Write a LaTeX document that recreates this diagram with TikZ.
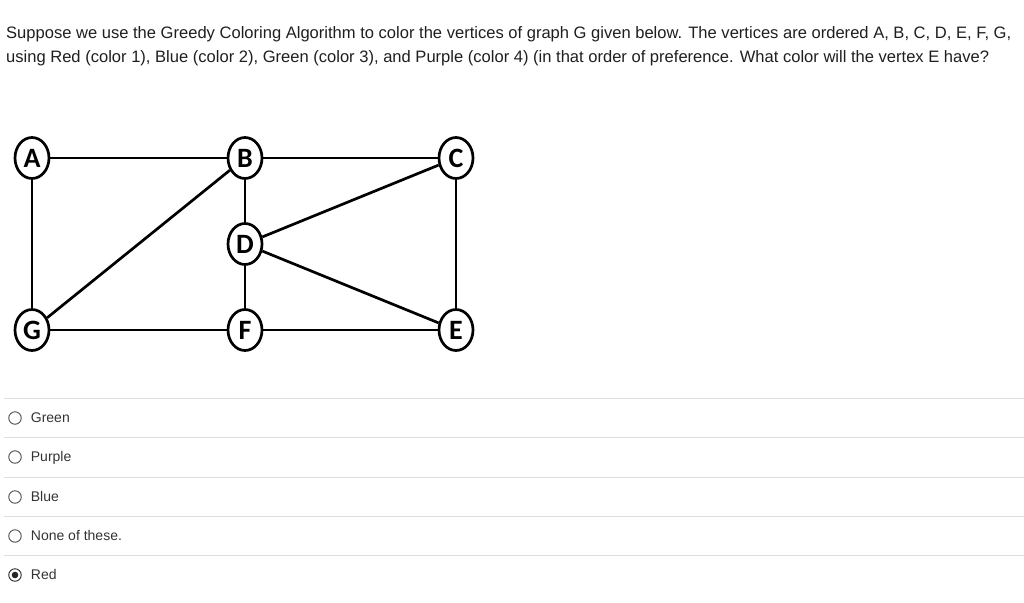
\documentclass[tikz,border=0pt]{standalone}
\usepackage{fontspec}
\setmainfont{Liberation Sans}
\newfontfamily\vertexfont{Carlito}
\usetikzlibrary{positioning}
\usetikzlibrary{shapes.geometric}

\tikzset{
	vertex/.style={draw, ellipse, line width=2.7pt, minimum width=34pt, minimum height=41pt, inner sep=0pt, font=\vertexfont\bfseries\fontsize{28}{28}\selectfont},
	edge/.style={line width=2.7pt},
	radio/.style={circle, draw=black!70, line width=0.9pt, minimum size=12.5pt, inner sep=0pt},
	answer/.style={inner sep=0pt, text height=10pt, text depth=2pt, font=\fontsize{14}{16}\selectfont, text=black!80},
	question/.style={anchor=base west, inner sep=0pt, font=\fontsize{16.55}{18}\selectfont, text=black!88},
	rule/.style={draw=black!13, line width=1pt}
}

\begin{document}
\begin{tikzpicture}[x=1pt, y=-1pt]
			\useasboundingbox (0, 0) rectangle (1024, 602);
			\node[question] (line1) at (6, 38) {Suppose we use the Greedy Coloring Algorithm to color the vertices of graph G given below. The vertices are ordered A, B, C, D, E, F, G,};
			\node[question] (line2) at (6, 63) {using Red (color 1), Blue (color 2), Green (color 3), and Purple (color 4) (in that order of preference. What color will the vertex E have?};
			% graph
			\node[vertex] (A) at (32, 158) {A};
			\node[vertex] (B) at (245, 158) {B};
			\node[vertex] (C) at (456, 158) {C};
			\node[vertex] (D) at (245, 244) {D};
			\node[vertex] (G) at (32, 330) {G};
			\node[vertex] (F) at (245, 330) {F};
			\node[vertex] (E) at (456, 330) {E};
			\draw[edge] (A)--(B);
			\draw[edge] (B)--(C);
			\draw[edge] (A)--(G);
			\draw[edge] (G)--(B);
			\draw[edge] (B)--(D);
			\draw[edge] (D)--(C);
			\draw[edge] (D)--(E);
			\draw[edge] (D)--(F);
			\draw[edge] (C)--(E);
			\draw[edge] (G)--(F);
			\draw[edge] (F)--(E);
			% answers
			\draw[rule] (4, 398)--(1024, 398);
			\draw[rule] (4, 437)--(1024, 437);
			\draw[rule] (4, 477)--(1024, 477);
			\draw[rule] (4, 516)--(1024, 516);
			\draw[rule] (4, 555)--(1024, 555);
			\node[radio] (r1) at (15, 418) {};
			\node[radio] (r2) at (15, 457) {};
			\node[radio] (r3) at (15, 497) {};
			\node[radio] (r4) at (15, 536) {};
			\node[radio, draw=black!85] (r5) at (15, 575) {};
			\fill[black!85] (r5) circle (3.3pt);
			\node[answer, right=9pt of r1] (green) {Green};
			\node[answer, right=9pt of r2] (purple) {Purple};
			\node[answer, right=9pt of r3] (blue) {Blue};
			\node[answer, right=9pt of r4] (none) {None of these.};
			\node[answer, right=9pt of r5] (red) {Red};
		\end{tikzpicture}
\end{document}
